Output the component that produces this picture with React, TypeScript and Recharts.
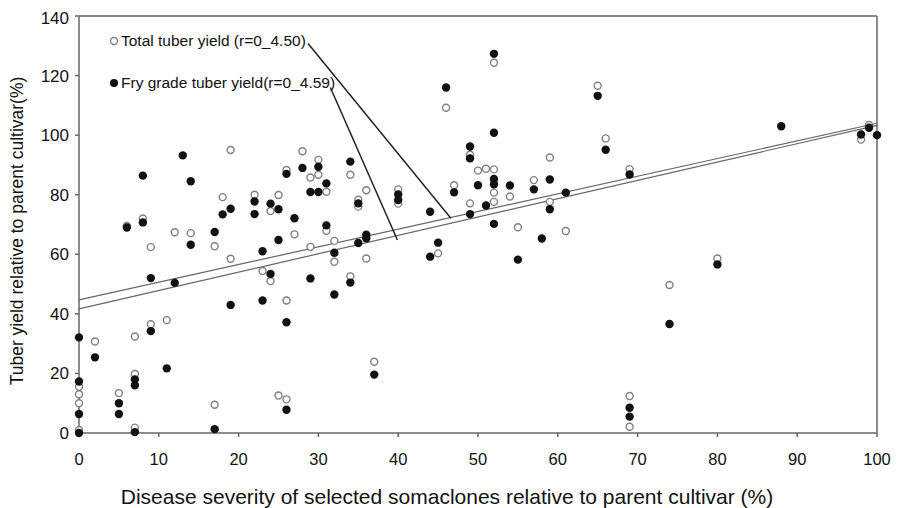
import React from 'react';
import { ScatterChart, Scatter, XAxis, YAxis, ReferenceLine } from 'recharts';

// disease severity (%) / total tuber yield (%) for each somaclone
const totalPoints = [
  [0, 1], [0, 10], [0, 13], [0, 15.5], [2, 30.7], [5, 13.4], [7, 1.8], [7, 19.8], [7, 32.4],
  [6, 69.5], [8, 72], [9, 36.5], [9, 62.4], [11, 37.9], [12, 67.4], [14, 67.1], [17, 9.5],
  [17, 62.7], [18, 79.2], [19, 95], [19, 58.5], [22, 80], [23, 54.4], [24, 74.5], [24, 51],
  [25, 79.9], [25, 12.6], [26, 88.3], [26, 11.3], [26, 44.5], [27, 66.7], [28, 94.6], [29, 85.8],
  [29, 62.5], [30, 91.7], [30, 86.7], [31, 81], [31, 67.9], [32, 64.5], [32, 57.5], [34, 86.7],
  [34, 52.6], [35, 78.3], [35, 76], [36, 81.5], [36, 58.6], [37, 23.9], [40, 81.8], [40, 77],
  [45, 60.3], [46, 109.2], [47, 83.2], [49, 93.4], [49, 77.1], [50, 88.1], [51, 88.7], [52, 88.5],
  [52, 80.7], [52, 77.6], [52, 124.3], [54, 79.4], [55, 69.1], [57, 84.9], [59, 92.5], [59, 77.6],
  [61, 67.8], [65, 116.6], [66, 98.9], [69, 88.6], [69, 12.4], [69, 2.1], [74, 49.7], [80, 58.6],
  [98, 98.5], [99, 103.4],
];

// disease severity (%) / fry grade tuber yield (%)
const fryPoints = [
  [0, 0], [0, 6.4], [0, 17.3], [0, 32.1], [2, 25.4], [5, 6.4], [5, 10], [7, 0.3], [7, 16], [7, 18],
  [6, 69], [8, 86.4], [8, 70.7], [9, 52], [9, 34.2], [11, 21.7], [12, 50.4], [13, 93.2], [14, 84.5],
  [14, 63.2], [17, 1.3], [17, 67.5], [18, 73.4], [19, 75.3], [19, 43], [22, 77.7], [22, 73.5],
  [23, 61], [23, 44.5], [24, 77], [24, 53.4], [25, 75.1], [25, 64.8], [26, 87], [26, 37.2], [26, 7.8],
  [27, 72.1], [28, 89], [29, 80.9], [29, 51.9], [30, 89.4], [30, 80.9], [31, 83.8], [31, 69.7],
  [32, 60.5], [32, 46.5], [34, 91.1], [34, 50.5], [35, 77.1], [35, 63.8], [36, 66.6], [36, 65.4],
  [37, 19.6], [40, 80.1], [40, 78.2], [44, 74.3], [44, 59.2], [45, 63.9], [46, 116], [47, 80.8],
  [49, 96.2], [49, 92.2], [49, 73.5], [50, 83.2], [51, 76.4], [52, 127.3], [52, 100.8], [52, 85.3],
  [52, 83.5], [52, 70.2], [54, 83.1], [55, 58.2], [57, 81.8], [58, 65.3], [59, 85.1], [59, 75.1],
  [61, 80.7], [65, 113.2], [66, 95.1], [69, 86.8], [69, 8.5], [69, 5.5], [74, 36.6], [80, 56.6],
  [88, 103], [98, 100.2], [99, 102.5], [100, 100],
];

const xTicks = [0, 10, 20, 30, 40, 50, 60, 70, 80, 90, 100];
const yTicks = [0, 20, 40, 60, 80, 100, 120, 140];

// fitted lines: [intercept, value at x=100]
const totalFit = [44.7, 104];
const fryFit = [41.7, 103.3];

// callout lines from labels to the fits
const totalCallout = [[28.7, 130.8], [46.6, 72.1]];
const fryCallout = [[31.5, 116], [39.9, 64.8]];

const toObj = (pts: number[][]) => pts.map(([x, y]) => ({ x, y }));

const OpenDot = (props: any) => (
  <circle cx={props.cx} cy={props.cy} r={3.5} fill="#fff" stroke="#808080" strokeWidth={1.4} />
);
const FilledDot = (props: any) => <circle cx={props.cx} cy={props.cy} r={4.2} fill="#111" />;

const font = '"Liberation Sans", Arial, sans-serif';

export default function App() {
  return (
    <div style={{ position: 'relative', width: 883, height: 500, fontFamily: font }}>
      <ScatterChart width={883} height={500} margin={{ top: 8, right: 14, left: 0, bottom: 0 }}>
        <XAxis
          type="number"
          dataKey="x"
          domain={[0, 100]}
          ticks={xTicks}
          height={75}
          tickSize={4}
          tickMargin={16}
          stroke="#666"
          strokeWidth={1.5}
          tick={{ fill: '#111', fontSize: 16.5, fontFamily: font }}
          label={{ value: 'Disease severity of selected somaclones relative to parent cultivar (%)', position: 'insideBottom', offset: 4, dx: -31, fill: '#111', fontSize: 21, fontFamily: font }}
        />
        <YAxis
          type="number"
          dataKey="y"
          domain={[0, 140]}
          ticks={yTicks}
          width={71}
          tickSize={4}
          tickMargin={6}
          stroke="#666"
          strokeWidth={1.5}
          tick={{ fill: '#111', fontSize: 17, fontFamily: font }}
        />
        <ReferenceLine y={140} stroke="#666" strokeWidth={1.5} />
        <ReferenceLine x={100} stroke="#666" strokeWidth={1.5} />
        <ReferenceLine segment={[{ x: 0, y: totalFit[0] }, { x: 100, y: totalFit[1] }]} stroke="#666" strokeWidth={1.2} />
        <ReferenceLine segment={[{ x: 0, y: fryFit[0] }, { x: 100, y: fryFit[1] }]} stroke="#666" strokeWidth={1.2} />
        <ReferenceLine segment={toObj(totalCallout)} stroke="#222" strokeWidth={1.5} />
        <ReferenceLine segment={toObj(fryCallout)} stroke="#222" strokeWidth={1.5} />
        <Scatter data={toObj(totalPoints)} shape={OpenDot} isAnimationActive={false} />
        <Scatter data={toObj(fryPoints)} shape={FilledDot} isAnimationActive={false} />
      </ScatterChart>
      <svg width={38} height={500} style={{ position: 'absolute', left: -8, top: 0, overflow: 'visible' }}>
        <text
          x={17}
          y={223}
          transform="rotate(-90, 17, 223)"
          textAnchor="middle"
          dominantBaseline="central"
          fontSize={17.5}
          fontFamily={font}
          fill="#111"
        >
          Tuber yield relative to parent cultivar(%)
        </text>
      </svg>
      <div style={{ position: 'absolute', left: 101, top: 23, fontSize: 15.5, color: '#111', lineHeight: '20px' }}>
        <div style={{ display: 'flex', alignItems: 'center' }}>
          <svg width={10} height={10} style={{ marginRight: 2 }}>
            <circle cx={5} cy={5} r={3.5} fill="#fff" stroke="#808080" strokeWidth={1.4} />
          </svg>
          <span>Total tuber yield (r=0_4.50)</span>
        </div>
        <div style={{ display: 'flex', alignItems: 'center', marginTop: 22 }}>
          <svg width={10} height={10} style={{ marginRight: 2 }}>
            <circle cx={5} cy={5} r={4} fill="#111" />
          </svg>
          <span>Fry grade tuber yield(r=0_4.59)</span>
        </div>
      </div>
    </div>
  );
}
